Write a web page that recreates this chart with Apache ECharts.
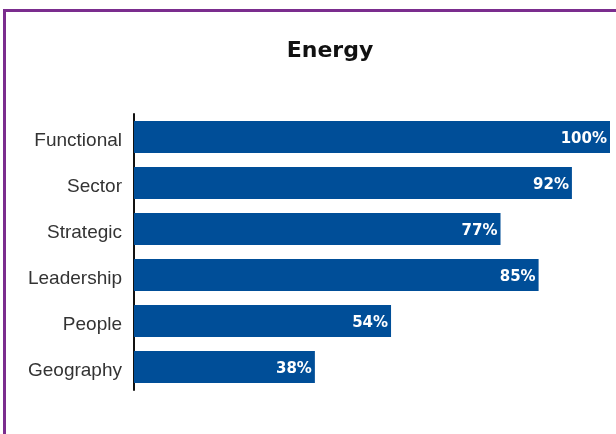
<!DOCTYPE html>
<html lang="en">
<head>
    <meta charset="UTF-8">
    <title>Energy</title>
    <script src="https://cdn.jsdelivr.net/npm/echarts@6/dist/echarts.min.js"></script>
    <style>
        html, body { margin: 0; padding: 0; background: #fff; }
        #wrap { position: relative; width: 616px; height: 434px; overflow: hidden; }
        #frame {
            position: absolute; left: 3px; top: 9px; width: 640px; height: 460px;
            border-left: 3px solid #7b2d8e; border-top: 3px solid #7b2d8e;
        }
        #chart { position: absolute; left: 0; top: 0; width: 616px; height: 434px; }
    </style>
</head>
<body>
<div id="wrap">
    <div id="frame"></div>
    <div id="chart"></div>
</div>
<script>
    // data, top to bottom as in the picture
    var categories = ['Functional', 'Sector', 'Strategic', 'Leadership', 'People', 'Geography'];
    var values = [100, 92, 77, 85, 54, 38];

    var chart = echarts.init(document.getElementById('chart'));
    chart.setOption({
        animation: false,
        title: {
            text: 'Energy',
            left: 325,
            top: 35,
            textAlign: 'center',
            textStyle: { fontFamily: 'DejaVu Sans', fontSize: 22, fontWeight: 'bold', color: '#111' }
        },
        grid: { left: 134, right: 6, top: 114, bottom: 44, containLabel: false },
        xAxis: {
            type: 'value', min: 0, max: 100, show: false
        },
        yAxis: {
            type: 'category',
            inverse: true,
            data: categories,
            axisLine: { show: true, lineStyle: { color: '#111', width: 2 } },
            axisTick: { show: false },
            axisLabel: {
                margin: 12,
                formatter: '{a|{value}}',
                rich: {
                    a: {
                        padding: [7, 0, 0, 0],
                        fontFamily: 'Liberation Sans',
                        fontSize: 19,
                        color: '#333'
                    }
                }
            }
        },
        series: [{
            type: 'bar',
            data: values,
            barCategoryGap: '30%',
            itemStyle: { color: '#004e98' },
            label: {
                show: true,
                position: 'insideRight',
                offset: [2, 2],
                formatter: '{c}%',
                color: '#fff',
                fontFamily: 'DejaVu Sans',
                fontWeight: 'bold',
                fontSize: 15
            }
        }]
    });
</script>
</body>
</html>
